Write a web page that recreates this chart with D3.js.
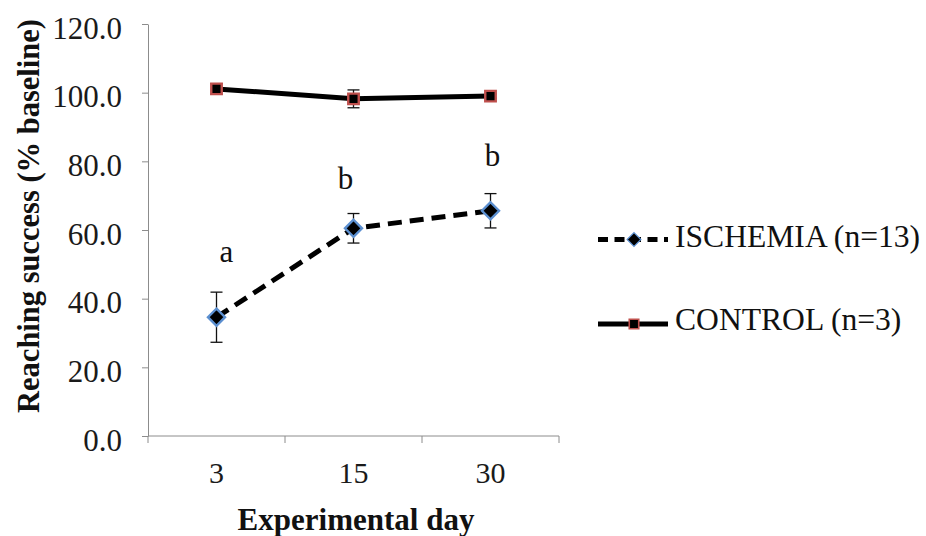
<!DOCTYPE html>
<html>
<head>
<meta charset="utf-8">
<script src="https://cdn.jsdelivr.net/npm/d3@7"></script>
<style>
  html, body { margin: 0; padding: 0; background: #fff; }
</style>
</head>
<body>
<svg id="chart" width="926" height="536"></svg>
<script>
// Experimental days (categories)
const days = ["3", "15", "30"];
// Reaching success, % of baseline (mean and error)
const ischemiaMean = [34.6, 60.5, 65.6];
const ischemiaErr = [7.3, 4.3, 5.0];
const controlMean = [101.1, 98.2, 99.0];
const controlErr = [1.5, 2.6, 0.6];
// Significance letters above ischemia points
const sigLetters = ["a", "b", "b"];
const yTicks = [0, 20, 40, 60, 80, 100, 120];
const seriesNames = ["ISCHEMIA (n=13)", "CONTROL (n=3)"];

const SERIF = "Liberation Serif";

const svg = d3.select("#chart");
const plot = { left: 148, right: 559, top: 24, bottom: 436 };

const x = d3.scaleBand().domain(days).range([plot.left, plot.right]);
const y = d3.scaleLinear().domain([0, 120]).range([plot.bottom, plot.top]);
const cx = d => x(d) + x.bandwidth() / 2;
const axisColor = "#8c8c8c";

// Y axis
const yAxis = d3.axisLeft(y).tickValues(yTicks).tickFormat(d3.format(".1f")).tickSize(6).tickSizeOuter(0);
const gy = svg.append("g").attr("transform", `translate(${plot.left},0)`).call(yAxis)
  .attr("font-family", SERIF);
gy.select(".domain").attr("stroke", axisColor);
gy.selectAll(".tick line").attr("stroke", axisColor);
gy.selectAll(".tick text").attr("font-size", 31).attr("fill", "#1a1a1a")
  .attr("font-family", SERIF).attr("x", -26).attr("dy", 14);

// X axis: ticks at category boundaries
const gx = svg.append("g").attr("transform", `translate(0,${plot.bottom})`);
gx.append("line").attr("x1", plot.left).attr("x2", plot.right).attr("stroke", axisColor);
const bounds = days.map(d => x(d)).concat([plot.right]);
gx.selectAll("line.tk").data(bounds).enter().append("line").attr("class", "tk")
  .attr("x1", d => d).attr("x2", d => d).attr("y1", 0).attr("y2", 7).attr("stroke", axisColor);
gx.selectAll("text").data(days).enter().append("text")
  .attr("x", d => cx(d)).attr("y", 47).attr("text-anchor", "middle")
  .attr("font-family", SERIF).attr("font-size", 30).attr("fill", "#1a1a1a").text(d => d);

// Axis titles
svg.append("text").attr("x", 356).attr("y", 530).attr("text-anchor", "middle")
  .attr("font-family", SERIF).attr("font-size", 31).attr("font-weight", "bold")
  .attr("fill", "#111").text("Experimental day");
svg.append("text").attr("transform", "translate(39,216) rotate(-90)").attr("text-anchor", "middle")
  .attr("font-family", SERIF).attr("font-size", 30.5).attr("font-weight", "bold")
  .attr("fill", "#111").text("Reaching success (% baseline)");

// Error bars
function errorBars(means, errs) {
  const g = svg.append("g").attr("stroke", "#111").attr("stroke-width", 1.3);
  days.forEach((d, i) => {
    const xc = cx(d), hi = y(means[i] + errs[i]), lo = y(means[i] - errs[i]);
    g.append("line").attr("x1", xc).attr("x2", xc).attr("y1", hi).attr("y2", lo);
    g.append("line").attr("x1", xc - 6).attr("x2", xc + 6).attr("y1", hi).attr("y2", hi);
    g.append("line").attr("x1", xc - 6).attr("x2", xc + 6).attr("y1", lo).attr("y2", lo);
  });
}
errorBars(controlMean, controlErr);
errorBars(ischemiaMean, ischemiaErr);

const line = d3.line().x((v, i) => cx(days[i])).y(v => y(v));

// Control: solid line
svg.append("path").datum(controlMean).attr("d", line).attr("fill", "none")
  .attr("stroke", "#000").attr("stroke-width", 5);
// Ischemia: dashed line
svg.append("path").datum(ischemiaMean).attr("d", line).attr("fill", "none")
  .attr("stroke", "#000").attr("stroke-width", 5).attr("stroke-dasharray", "14,8");

const square = d3.symbol().type(d3.symbolSquare).size(110);
const diamond = d3.symbol().type(d3.symbolDiamond2).size(185);

svg.selectAll("path.ctl").data(controlMean).enter().append("path").attr("class", "ctl")
  .attr("d", square).attr("transform", (v, i) => `translate(${cx(days[i])},${y(v)})`)
  .attr("fill", "#000").attr("stroke", "#c0504d").attr("stroke-width", 2.4);
svg.selectAll("path.isc").data(ischemiaMean).enter().append("path").attr("class", "isc")
  .attr("d", diamond).attr("transform", (v, i) => `translate(${cx(days[i])},${y(v)})`)
  .attr("fill", "#000").attr("stroke", "#5b8fd0").attr("stroke-width", 2.4);

// Significance letters above the ischemia points
const letterPos = [[10, -55], [-8, -39], [2, -45]];
sigLetters.forEach((t, i) => {
  svg.append("text").attr("x", cx(days[i]) + letterPos[i][0])
    .attr("y", y(ischemiaMean[i]) + letterPos[i][1])
    .attr("text-anchor", "middle").attr("font-family", SERIF).attr("font-size", 31)
    .attr("fill", "#111").text(t);
});

// Legend
const legend = svg.append("g");
const legY = [239.5, 324];
legend.append("line").attr("x1", 598).attr("x2", 668).attr("y1", legY[0]).attr("y2", legY[0])
  .attr("stroke", "#000").attr("stroke-width", 5).attr("stroke-dasharray", "10,6.5");
legend.append("path").attr("d", d3.symbol().type(d3.symbolDiamond2).size(120))
  .attr("transform", `translate(634,${legY[0]})`).attr("fill", "#000")
  .attr("stroke", "#5b8fd0").attr("stroke-width", 1.2);
legend.append("line").attr("x1", 598).attr("x2", 668).attr("y1", legY[1]).attr("y2", legY[1])
  .attr("stroke", "#000").attr("stroke-width", 5);
legend.append("path").attr("d", d3.symbol().type(d3.symbolSquare).size(90))
  .attr("transform", `translate(634,${legY[1]})`).attr("fill", "#000")
  .attr("stroke", "#c0504d").attr("stroke-width", 1.6);
seriesNames.forEach((n, i) => {
  legend.append("text").attr("x", 675).attr("y", legY[i] + (i === 0 ? 7 : 6)).attr("font-size", 31.6)
    .attr("font-family", SERIF).attr("fill", "#111").text(n);
});
</script>
</body>
</html>
